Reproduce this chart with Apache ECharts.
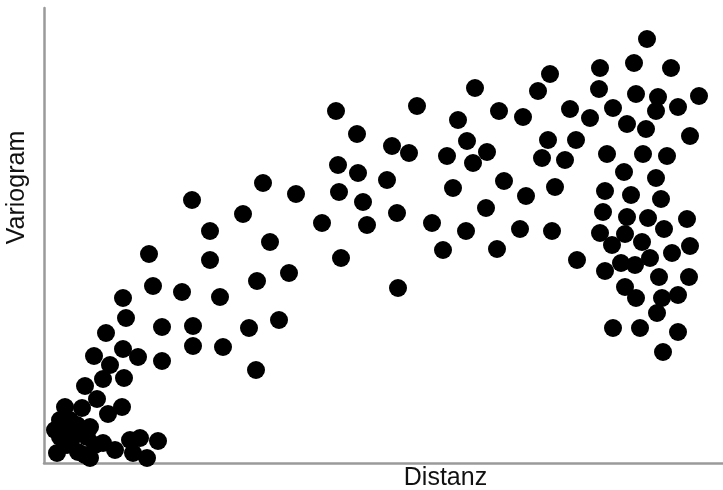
<!DOCTYPE html>
<html>
<head>
<meta charset="utf-8">
<script src="https://cdn.jsdelivr.net/npm/echarts@6/dist/echarts.min.js"></script>
<style>
  html, body { margin: 0; padding: 0; background: #fff; }
  #main { width: 723px; height: 490px; }
</style>
</head>
<body>
<div id="main"></div>
<script>
// points, [distance, variogram] in picture units from the axis origin
const cluster = [
  [19, 36], [33, 38], [46, 36], [16, 26], [29, 26], [43, 26], [23, 18], [13, 10],
  [34, 11], [46, 5], [59, 20], [71, 13], [86, 23], [96, 25], [114, 22], [89, 10],
  [103, 5], [21, 56], [38, 55], [78, 56], [64, 49], [53, 64], [41, 77], [26, 43],
  [11, 33], [16, 43], [51, 18], [41, 8]
];
const rising = [
  [59, 84], [80, 85], [66, 98], [50, 107], [79, 114], [94, 106], [118, 102],
  [62, 130], [82, 145], [118, 136], [149, 137], [149, 117], [79, 165], [109, 177],
  [138, 171], [105, 209], [148, 263], [166, 232], [166, 203], [176, 166], [179, 116],
  [205, 135], [212, 93], [235, 143], [213, 182], [245, 190], [226, 221], [199, 249],
  [219, 280], [252, 269]
];
const middle = [
  [278, 240], [297, 205], [323, 238], [319, 261], [295, 271], [314, 290], [294, 298],
  [313, 329], [292, 352], [348, 317], [365, 310], [343, 283], [353, 250], [354, 175],
  [373, 357], [403, 307], [414, 343], [423, 322], [431, 375], [429, 300], [443, 311],
  [409, 275], [388, 240], [422, 232], [399, 213], [442, 255], [455, 352], [479, 346],
  [494, 372], [460, 282], [482, 267], [476, 234], [453, 214], [498, 305], [504, 323],
  [506, 389], [511, 276], [508, 232]
];
const far = [
  [603, 424], [556, 395], [590, 400], [627, 395], [555, 374], [592, 369], [614, 366],
  [655, 367], [526, 354], [569, 355], [612, 352], [634, 356], [546, 345], [583, 339],
  [602, 334], [646, 327], [532, 323], [563, 309], [599, 309], [623, 307], [521, 303],
  [580, 291], [612, 285], [561, 272], [587, 268], [617, 264], [559, 251], [583, 246],
  [604, 245], [643, 244], [620, 234], [556, 230], [581, 229], [568, 218], [598, 221],
  [646, 217], [628, 210], [533, 203], [577, 200], [591, 198], [606, 205], [561, 192],
  [615, 186], [645, 186], [581, 176], [592, 165], [618, 165], [634, 168], [613, 150],
  [569, 135], [596, 135], [634, 131], [619, 111]
];

const dot = '#000';

const chart = echarts.init(document.getElementById('main'));
const option = {
  animation: false,
  grid: { left: 44, right: 0, top: 8, bottom: 27, outerBoundsMode: 'none' },
  xAxis: {
    type: 'value', min: 0, max: 679,
    name: 'Distanz', nameLocation: 'middle', nameGap: 3,
    nameTextStyle: { color: '#111', fontSize: 25, fontFamily: 'Liberation Sans', padding: [0, 0, 0, 124] },
    axisLine: { show: true, lineStyle: { color: '#9a9a9a', width: 2.5 } },
    axisTick: { show: false }, axisLabel: { show: false }, splitLine: { show: false }
  },
  yAxis: {
    type: 'value', min: 0, max: 455,
    name: 'Variogram', nameLocation: 'middle', nameGap: 14,
    nameTextStyle: { color: '#111', fontSize: 25, fontFamily: 'Liberation Sans', padding: [0, 0, 0, 96] },
    axisLine: { show: true, lineStyle: { color: '#9a9a9a', width: 2.5 } },
    axisTick: { show: false }, axisLabel: { show: false }, splitLine: { show: false }
  },
  series: [cluster, rising, middle, far].map(function (d) {
    return {
      type: 'scatter', data: d, symbolSize: 18,
      itemStyle: { color: dot, opacity: 1 }
    };
  })
};
chart.setOption(option);
</script>
</body>
</html>
